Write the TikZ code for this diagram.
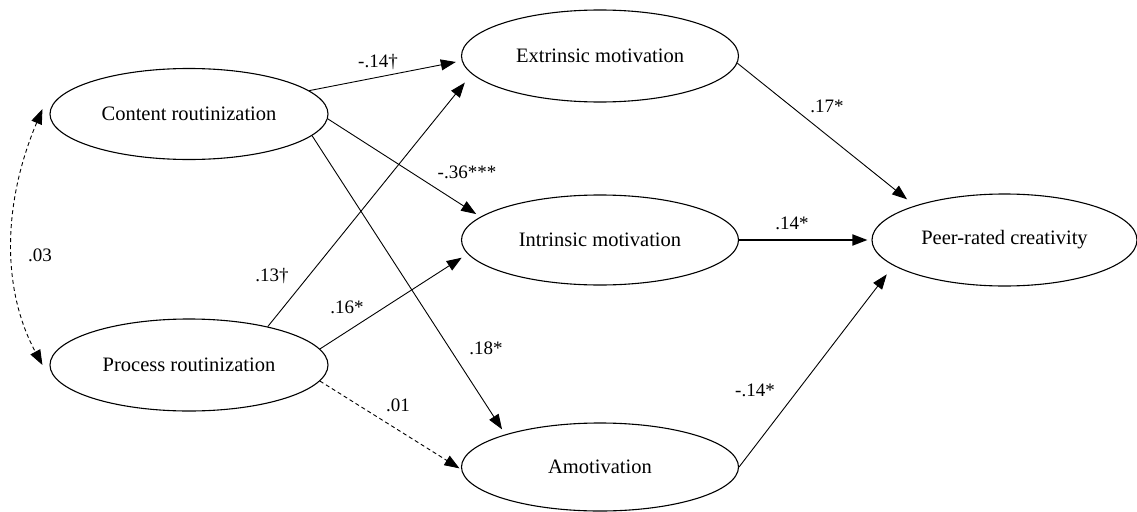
\documentclass[tikz,border=0pt]{standalone}
\usepackage{fontspec}
\setmainfont{Liberation Serif}
\usetikzlibrary{shapes.geometric,arrows.meta,calc}
\begin{document}
\begin{tikzpicture}[x=1pt,y=-1pt,
  latent/.style={draw, ellipse, line width=1.1pt, minimum width=278pt, minimum height=91pt, inner sep=0pt, font=\fontsize{20.5}{24}\selectfont},
  tip/.style={Triangle[length=15pt,width=11pt]},
  arr/.style={line width=0.9pt, -{Triangle[length=15pt,width=11pt]}},
  dsh/.style={dash pattern=on 4pt off 3pt},
  lbl/.style={font=\fontsize{19}{22}\selectfont, inner sep=0pt}]
\useasboundingbox (0,0) rectangle (1137,511);
\node[latent] (c) at (189,114) {Content routinization};
\node[latent, minimum height=92pt] (p) at (189,365) {Process routinization};
\node[latent, minimum width=277pt, minimum height=92pt] (e) at (600,56) {Extrinsic motivation};
\node[latent, minimum width=277pt, minimum height=90pt] (i) at (600,240) {Intrinsic motivation};
\node[latent, minimum width=277pt, minimum height=88pt] (a) at (600,467) {Amotivation};
\node[latent, minimum width=265pt, minimum height=92pt] (f) at (1004.5,240) {Peer-rated creativity};
% paths
\draw[arr, shorten >=6pt] (c.11) -- (e.182);
\draw[arr, shorten >=5pt] (c.-2) -- (i.169);
\draw[arr, shorten >=6pt] (c.-10) -- (a.161);
\draw[arr, shorten >=11pt] (p.26) -- (e.188);
\draw[arr, shorten >=7pt] (p.7) -- (i.186);
\draw[arr, dsh, shorten >=2pt] (p.-7) -- (a.181);
\draw[arr, shorten >=10pt] (e.-3) -- (f.159);
\draw[arr, line width=1.8pt, shorten >=4pt] (i.east) -- (f.west);
\draw[arr, shorten >=11pt] (a.east) -- (f.193);
% covariance
\coordinate (ct) at ($(c.west)+(-7,-5)$);
\coordinate (pt) at ($(p.west)+(-7,0)$);
\draw[line width=0.9pt, dsh, {Triangle[length=15pt,width=11pt]}-{Triangle[length=15pt,width=11pt]}] (ct) .. controls (2,205) and (2,290) .. (pt);
% labels
\node[lbl] (l1) at (378,62) {-.14†};
\node[lbl] (l2) at (467,172) {-.36***};
\node[lbl] (l3) at (486,348) {.18*};
\node[lbl] (l4) at (272,276) {.13†};
\node[lbl] (l5) at (347,307) {.16*};
\node[lbl] (l6) at (398,405) {.01};
\node[lbl] (l7) at (827,106) {.17*};
\node[lbl] (l8) at (792,223) {.14*};
\node[lbl] (l9) at (755,390) {-.14*};
\node[lbl] (l10) at (40,255) {.03};
\end{tikzpicture}
\end{document}
